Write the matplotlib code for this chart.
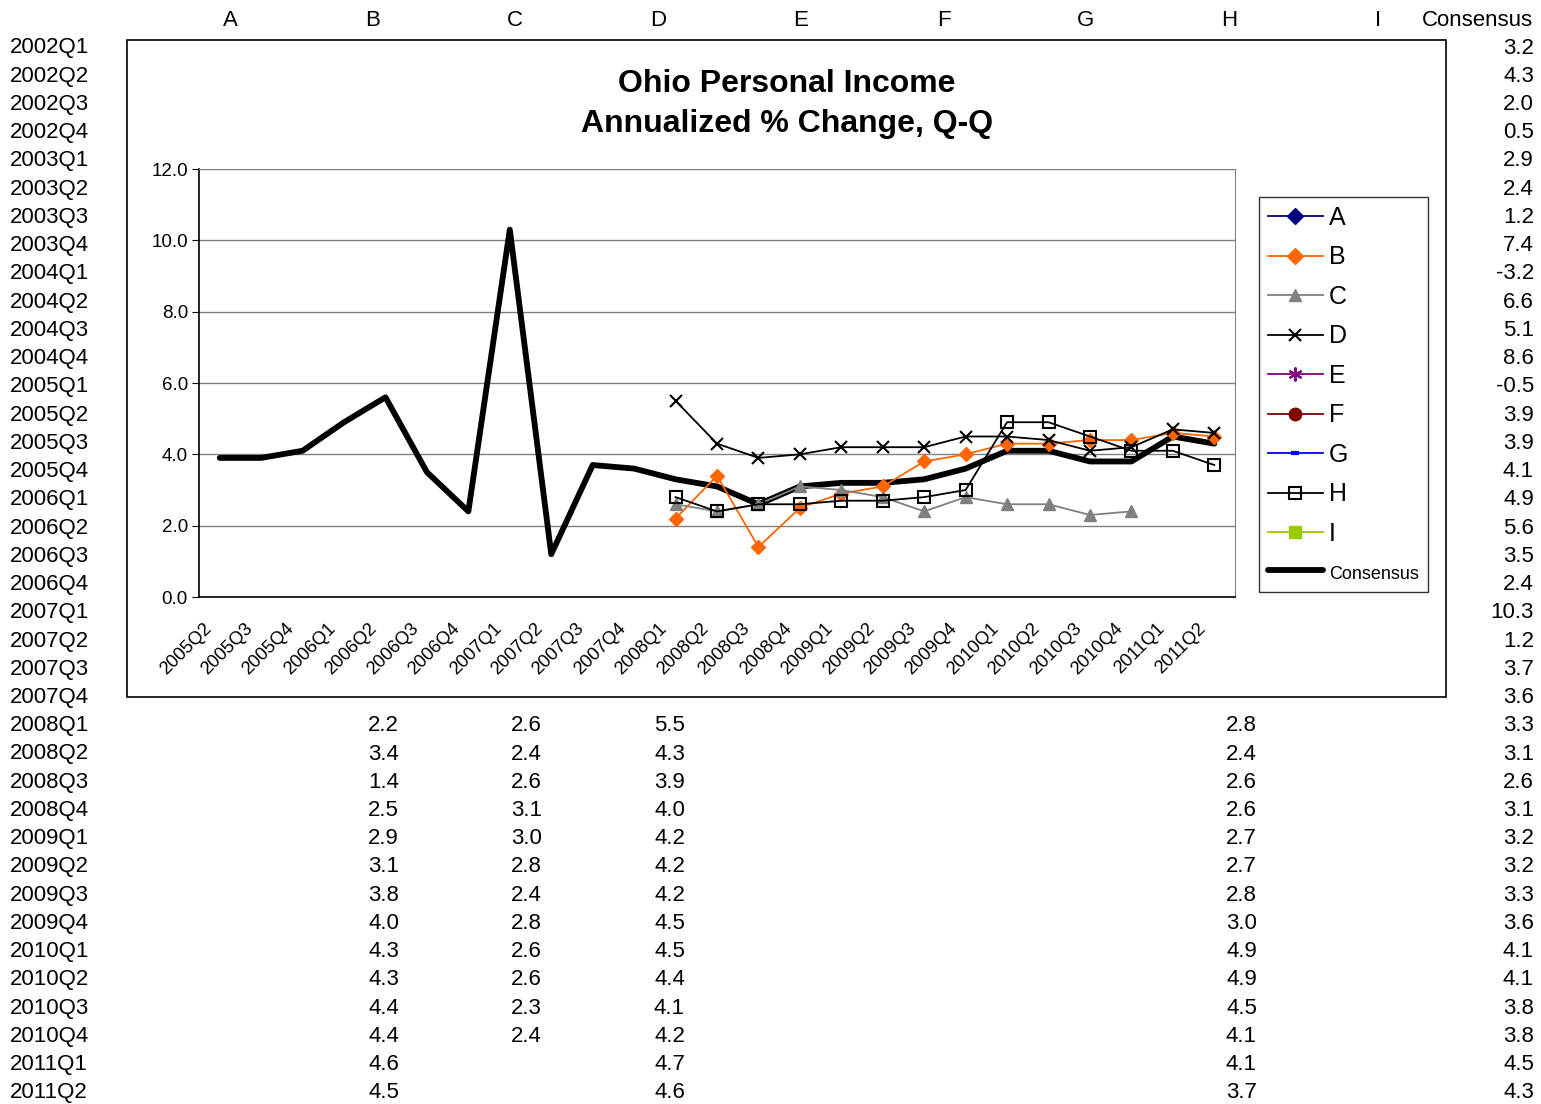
import numpy as np
import matplotlib.pyplot as plt
import matplotlib.transforms as mtrans
from matplotlib.lines import Line2D
from matplotlib.patches import Rectangle
from matplotlib.ticker import FormatStrFormatter

plt.rcParams['font.family'] = ['Liberation Sans', 'DejaVu Sans']

# spreadsheet rows
quarters = [f'{y}Q{q}' for y in range(2002, 2012) for q in range(1, 5)][:38]
columns = ['A', 'B', 'C', 'D', 'E', 'F', 'G', 'H', 'I', 'Consensus']

consensus = [3.2, 4.3, 2.0, 0.5, 2.9, 2.4, 1.2, 7.4, -3.2, 6.6, 5.1, 8.6, -0.5,
             3.9, 3.9, 4.1, 4.9, 5.6, 3.5, 2.4, 10.3, 1.2, 3.7, 3.6,
             3.3, 3.1, 2.6, 3.1, 3.2, 3.2, 3.3, 3.6, 4.1, 4.1, 3.8, 3.8, 4.5, 4.3]
# forecasters, starting 2008Q1
b_vals = [2.2, 3.4, 1.4, 2.5, 2.9, 3.1, 3.8, 4.0, 4.3, 4.3, 4.4, 4.4, 4.6, 4.5]
c_vals = [2.6, 2.4, 2.6, 3.1, 3.0, 2.8, 2.4, 2.8, 2.6, 2.6, 2.3, 2.4]
d_vals = [5.5, 4.3, 3.9, 4.0, 4.2, 4.2, 4.2, 4.5, 4.5, 4.4, 4.1, 4.2, 4.7, 4.6]
h_vals = [2.8, 2.4, 2.6, 2.6, 2.7, 2.7, 2.8, 3.0, 4.9, 4.9, 4.5, 4.1, 4.1, 3.7]

chart_start = quarters.index('2005Q2')
fc_start = quarters.index('2008Q1')

W, H = 1541, 1104
fig = plt.figure(figsize=(W / 100, H / 100), dpi=100)

# sheet layer in pixel coords
bg = fig.add_axes([0, 0, 1, 1])
bg.set_xlim(0, W)
bg.set_ylim(H, 0)
bg.axis('off')

fs = 16
col_x = [230, 373, 515, 658, 801, 944, 1086, 1229, 1378, 1477]
for name, x in zip(columns, col_x):
    bg.text(x, 20, name, ha='center', va='center', fontsize=fs)

row_y = 48 + 28.24 * np.arange(len(quarters))
for q, y in zip(quarters, row_y):
    bg.text(10, y, q, ha='left', va='center', fontsize=fs)
for v, y in zip(consensus, row_y):
    bg.text(1534, y, f'{v:.1f}', ha='right', va='center', fontsize=fs)
for vals, x in [(b_vals, 399), (c_vals, 542), (d_vals, 685), (h_vals, 1257)]:
    for v, y in zip(vals, row_y[fc_start:]):
        bg.text(x, y, f'{v:.1f}', ha='right', va='center', fontsize=fs)

bg.add_patch(Rectangle((127, 40), 1319, 657, fc='white', ec='black', lw=1.2))
bg.text(787, 84, 'Ohio Personal Income', ha='center', va='center',
        fontsize=23, fontweight='bold')
bg.text(787, 124, 'Annualized % Change, Q-Q', ha='center', va='center',
        fontsize=23, fontweight='bold')

# chart
ax = fig.add_axes([199 / W, 1 - 597 / H, 1036 / W, 428 / H])
labels = quarters[chart_start:]
x = np.arange(len(labels))
xf = x[fc_start - chart_start:]

ax.plot(x, consensus[chart_start:], color='black', lw=4.2, zorder=2,
        solid_joinstyle='round', solid_capstyle='round')
ax.plot(xf, b_vals, color='#FF6600', lw=1.3, marker='D', ms=7, zorder=3)
ax.plot(xf[:len(c_vals)], c_vals, color='#808080', lw=1.3, marker='^', ms=9, zorder=3)
ax.plot(xf, d_vals, color='black', lw=1.3, marker='x', ms=9, mew=1.5, zorder=3)
ax.plot(xf, h_vals, color='black', lw=1.3, marker='s', ms=8, mfc='none', mew=1.5, zorder=4)

ax.set_xlim(-0.5, len(labels) - 0.5)
ax.set_ylim(0, 12)
ax.set_yticks(np.arange(0, 12.1, 2))
ax.yaxis.set_major_formatter(FormatStrFormatter('%.1f'))
ax.set_xticks([])
lab_tr = ax.get_xaxis_transform() + mtrans.ScaledTranslation(-11 / 100, -29 / 100,
                                                             fig.dpi_scale_trans)
for xi, lab in zip(x, labels):
    ax.text(xi, 0, lab, transform=lab_tr, rotation=45, ha='right', va='center',
            rotation_mode='anchor', fontsize=13.2)
ax.tick_params(axis='y', length=5, labelsize=13.5, pad=3)
ax.grid(axis='y', color='#808080', lw=1)
ax.set_axisbelow(True)
for s in ['top', 'right']:
    ax.spines[s].set_color('#808080')
for s in ['left', 'bottom']:
    ax.spines[s].set_color('black')
    ax.spines[s].set_linewidth(1.2)

handles = [
    Line2D([], [], color='#000080', marker='D', ms=8, lw=1.3),
    Line2D([], [], color='#FF6600', marker='D', ms=8, lw=1.3),
    Line2D([], [], color='#808080', marker='^', ms=9, lw=1.3),
    Line2D([], [], color='black', marker='x', ms=9, mew=1.5, lw=1.3),
    Line2D([], [], color='#800080', marker=(6, 2, 0), ms=10, mew=1.5, lw=1.3),
    Line2D([], [], color='#800000', marker='o', ms=9, lw=1.3),
    Line2D([], [], color='#0000FF', marker='_', ms=6, mew=3, lw=1.3),
    Line2D([], [], color='black', marker='s', ms=8, mfc='none', mew=1.5, lw=1.3),
    Line2D([], [], color='#99CC00', marker='s', ms=9, lw=1.3),
    Line2D([], [], color='black', lw=4.2, solid_capstyle='round'),
]
leg = ax.legend(handles, ['A', 'B', 'C', 'D', 'E', 'F', 'G', 'H', 'I', 'Consensus'],
                loc='upper left', bbox_to_anchor=(1259 / W, 1 - 197 / H),
                bbox_transform=fig.transFigure, fontsize=18, frameon=True,
                fancybox=False, edgecolor='black', handlelength=2.2,
                handletextpad=0.25, labelspacing=0.62, borderpad=0.35,
                borderaxespad=0)
leg.get_frame().set_linewidth(1)
leg.get_texts()[-1].set_fontsize(13)

fig.savefig('out.png', dpi=100)
